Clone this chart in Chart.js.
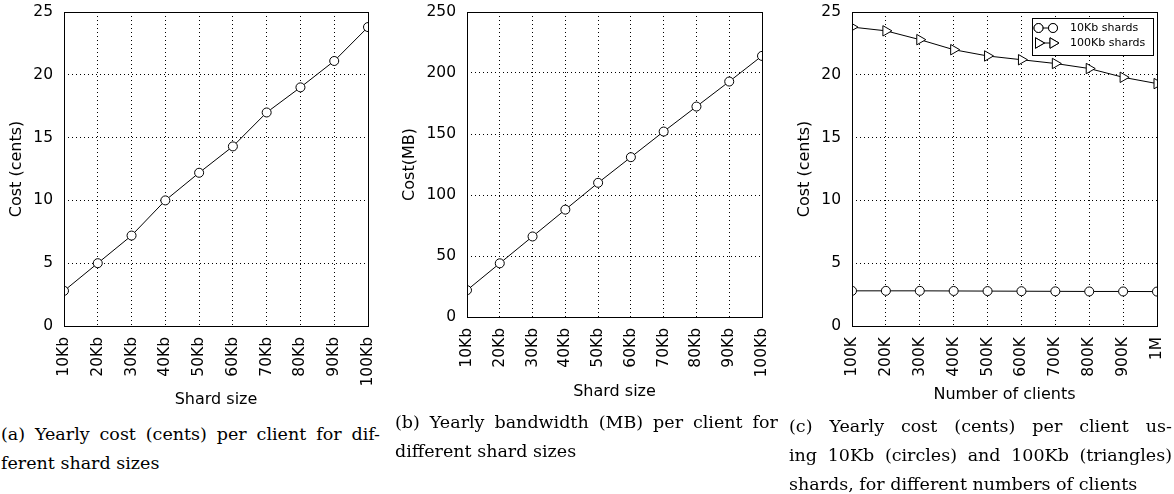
<!DOCTYPE html>
<html>
<head>
<meta charset="utf-8">
<script src="https://cdn.jsdelivr.net/npm/chart.js@4"></script>
<style>
body{margin:0;width:1174px;height:494px;background:#fff;position:relative;overflow:hidden;}
canvas{position:absolute;top:0;}
.cap{position:absolute;font-family:"DejaVu Serif",serif;font-size:17.5px;line-height:29px;color:#000;}
.cap .j{text-align:justify;text-align-last:justify;}
</style>
</head>
<body>
<canvas id="chartA" width="390" height="420" style="left:0px"></canvas>
<canvas id="chartB" width="400" height="420" style="left:390px"></canvas>
<canvas id="chartC" width="394" height="420" style="left:780px"></canvas>

<div class="cap" style="left:1px;top:420px;width:379px">
  <div class="j">(a) Yearly cost (cents) per client for dif-</div>
  <div>ferent shard sizes</div>
</div>
<div class="cap" style="left:395px;top:408px;width:383px">
  <div class="j">(b) Yearly bandwidth (MB) per client for</div>
  <div>different shard sizes</div>
</div>
<div class="cap" style="left:789px;top:412px;width:383px">
  <div class="j">(c) Yearly cost (cents) per client us-</div>
  <div class="j">ing 10Kb (circles) and 100Kb (triangles)</div>
  <div>shards, for different numbers of clients</div>
</div>

<script>
// data
const shardSizes = ['10Kb','20Kb','30Kb','40Kb','50Kb','60Kb','70Kb','80Kb','90Kb','100Kb'];
const costCents = [2.8, 5.0, 7.2, 10.0, 12.2, 14.3, 17.0, 19.0, 21.1, 23.8];
const bandwidthMB = [22, 44, 66, 88, 110, 131, 152, 172.5, 193, 214];

const clientCounts = ['100K','200K','300K','400K','500K','600K','700K','800K','900K','1M'];
const cost10Kb = [2.8, 2.8, 2.8, 2.79, 2.78, 2.77, 2.76, 2.75, 2.75, 2.74];
const cost100Kb = [23.8, 23.5, 22.8, 22.0, 21.5, 21.2, 20.9, 20.5, 19.8, 19.3];

Chart.defaults.font.family = '"DejaVu Sans", sans-serif';
Chart.defaults.color = '#000';

function align(px){ return Math.round(px - 0.5) + 0.5; }

// full box round the plot area
const frame = {
    id: 'frame',
    afterDatasetsDraw(chart){
        const a = chart.chartArea, ctx = chart.ctx;
        ctx.save();
        ctx.strokeStyle = '#000';
        ctx.lineWidth = 1;
        const l = align(a.left), r = align(a.right), t = align(a.top), b = align(a.bottom);
        ctx.strokeRect(l, t, r - l, b - t);
        ctx.restore();
    }
};

// matplotlib style legend: line with a marker at both ends
const boxLegend = {
    id: 'boxLegend',
    afterDraw(chart){
        const a = chart.chartArea, ctx = chart.ctx;
        const w = 121, h = 37;
        const x0 = a.right - 4 - w, y0 = a.top + 6;
        ctx.save();
        ctx.fillStyle = '#fff';
        ctx.fillRect(x0, y0, w, h);
        ctx.strokeStyle = '#000';
        ctx.lineWidth = 1;
        ctx.strokeRect(Math.round(x0) + 0.5, Math.round(y0) + 0.5, w, h);
        chart.data.datasets.forEach((ds, i) => {
            const y = y0 + 10 + i * 15;
            const xa = x0 + 6.5, xb = x0 + 21;
            ctx.beginPath();
            ctx.moveTo(xa, y);
            ctx.lineTo(xb, y);
            ctx.strokeStyle = '#000';
            ctx.lineWidth = 1;
            ctx.stroke();
            [xa, xb].forEach(x => {
                Chart.helpers.drawPoint(ctx, {
                    pointStyle: ds.pointStyle, rotation: ds.pointRotation || 0,
                    radius: ds.pointRadius, borderWidth: 1
                }, x, y);
                ctx.fillStyle = '#fff';
                ctx.strokeStyle = '#000';
                ctx.fill();
                ctx.stroke();
            });
            ctx.fillStyle = '#000';
            ctx.font = '11px "DejaVu Sans"';
            ctx.textBaseline = 'middle';
            ctx.fillText(ds.label, x0 + 38, y);
        });
        ctx.restore();
    }
};

function lineSet(label, data, style){
    return {
        label: label,
        data: data,
        borderColor: '#000',
        borderWidth: 1,
        pointStyle: style,
        pointRotation: style === 'triangle' ? 90 : 0,
        pointRadius: style === 'triangle' ? 6 : 4.5,
        pointBackgroundColor: '#fff',
        pointBorderColor: '#000',
        pointBorderWidth: 1,
        tension: 0,
        clip: 0
    };
}

// fixed scale size, and no extra padding for the tick labels
function fixSize(s, prop, val){
    s[prop] = val;
    s.paddingTop = 0;
    s.paddingBottom = 0;
    s.paddingLeft = 0;
    s.paddingRight = 0;
}

function makeChart(id, labels, datasets, o, plugins){
    return new Chart(document.getElementById(id), {
        type: 'line',
        data: { labels: labels, datasets: datasets },
        options: {
            responsive: false,
            devicePixelRatio: 1,
            animation: false,
            events: [],
            layout: { padding: { top: 12, right: o.right, left: 0, bottom: 0 } },
            plugins: { legend: { display: false }, tooltip: { enabled: false } },
            scales: {
                x: {
                    offset: false,
                    afterFit: s => fixSize(s, 'height', o.xh),
                    grid: { color: '#000', lineWidth: 1, drawTicks: false },
                    border: { display: false, dash: [1, 3] },
                    ticks: { autoSkip: false, minRotation: 90, maxRotation: 90, padding: 11, font: { size: 15.5 } },
                    title: { display: true, text: o.xTitle, font: { size: 16, lineHeight: 1 }, padding: { top: 0, bottom: o.xPad } }
                },
                y: {
                    min: 0,
                    max: o.yMax,
                    afterFit: s => fixSize(s, 'width', o.yw),
                    grid: { color: '#000', lineWidth: 1, drawTicks: false },
                    border: { display: false, dash: [1, 3] },
                    ticks: { stepSize: o.step, padding: 11, font: { size: 15.5 } },
                    title: { display: true, text: o.yTitle, font: { size: 16, lineHeight: 1 }, padding: { top: o.yPad, bottom: 0 } }
                }
            }
        },
        plugins: plugins
    });
}

makeChart('chartA', shardSizes, [lineSet('Cost', costCents, 'circle')],
    { right: 22, xh: 94, yw: 64, yMax: 25, step: 5, xTitle: 'Shard size', yTitle: 'Cost (cents)', xPad: 12, yPad: 9 },
    [frame]);

makeChart('chartB', shardSizes, [lineSet('Bandwidth', bandwidthMB, 'circle')],
    { right: 28, xh: 103, yw: 77, yMax: 250, step: 50, xTitle: 'Shard size', yTitle: 'Cost(MB)', xPad: 20, yPad: 12 },
    [frame]);

makeChart('chartC', clientCounts, [
        lineSet('10Kb shards', cost10Kb, 'circle'),
        lineSet('100Kb shards', cost100Kb, 'triangle')
    ],
    { right: 17, xh: 94, yw: 72, yMax: 25, step: 5, xTitle: 'Number of clients', yTitle: 'Cost (cents)', xPad: 17, yPad: 17 },
    [frame, boxLegend]);
</script>
</body>
</html>
